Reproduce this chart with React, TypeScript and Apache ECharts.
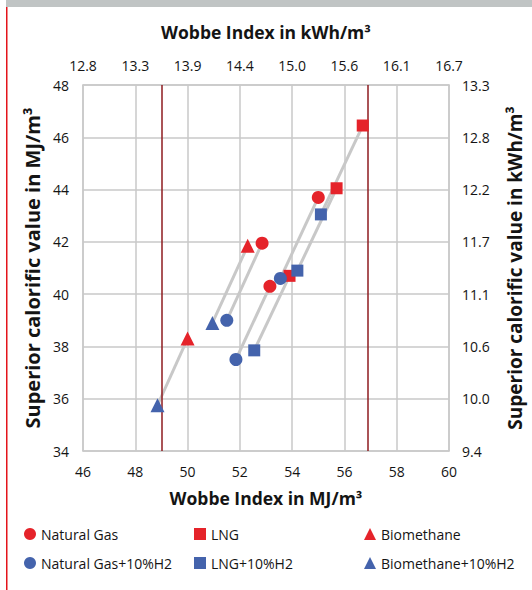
import React, { useEffect, useRef } from "react";
import * as echarts from "echarts";

// Wobbe index (MJ/m³) and superior calorific value (MJ/m³)
const naturalGas: number[][] = [[52.85, 41.95], [55.0, 43.7], [53.15, 40.3]];
const naturalGasH2: number[][] = [[51.5, 39.0], [53.55, 40.6], [51.85, 37.5]];
const lng: number[][] = [[56.7, 46.45], [55.7, 44.05], [53.9, 40.7]];
const lngH2: number[][] = [[55.1, 43.05], [54.2, 40.9], [52.55, 37.85]];
const biomethane: number[][] = [[52.3, 41.85], [50.0, 38.3]];
const biomethaneH2: number[][] = [[50.95, 38.9], [48.85, 35.75]];

// Wobbe index limits (MJ/m³)
const wobbeLimits: number[] = [49.0, 56.9];

// Tick labels of the secondary (kWh/m³) axes
const topTickLabels: string[] = ["12.8", "13.3", "13.9", "14.4", "15.0", "15.6", "16.1", "16.7"];
const rightTickLabels: string[] = ["9.4", "10.0", "10.6", "11.1", "11.7", "12.2", "12.8", "13.3"];

const xMin = 46, xMax = 60, yMin = 34, yMax = 48, step = 2;

const RED = "#e5232a";
const BLUE = "#4463ac";
const GRID = "#c9c9c9";
const FONT = "Open Sans";
const TXT = "#141414";

export default function App() {
  const ref = useRef<HTMLDivElement>(null);
  useEffect(() => {
    if (!ref.current) return;
    const chart = echarts.init(ref.current, undefined, { renderer: "svg" });

    const pairs: number[][][] = [];
    const groups: [number[][], number[][]][] = [
      [naturalGas, naturalGasH2],
      [lng, lngH2],
      [biomethane, biomethaneH2],
    ];
    groups.forEach(([a, b]) => a.forEach((p, i) => pairs.push([p, b[i]])));

    const lineSeries = pairs.map((pr, i) => ({
      type: "line",
      name: "pair" + i,
      data: pr,
      showSymbol: false,
      silent: true,
      z: 1,
      lineStyle: { color: "#c8c8c8", width: 3 },
      xAxisIndex: 0,
      yAxisIndex: 0,
    }));

    const scatter = (name: string, data: number[][], color: string, symbol: string, size: number) => ({
      type: "scatter",
      name,
      data,
      symbol,
      symbolSize: size,
      itemStyle: { color, opacity: 1 },
      z: 5,
      xAxisIndex: 0,
      yAxisIndex: 0,
    });

    const legendCommon = {
      orient: "vertical",
      itemGap: 15,
      itemWidth: 12,
      itemHeight: 12,
      textStyle: { fontFamily: FONT, fontSize: 14, color: TXT },
      selectedMode: false,
    };

    const labelStyle = { fontFamily: FONT, fontSize: 14, color: TXT };
    const nameStyle = { fontFamily: FONT, fontSize: 17.5, fontWeight: "bold", color: TXT };

    chart.setOption({
      animation: false,
      textStyle: { fontFamily: FONT },
      grid: { left: 83, right: 80, top: 85, bottom: 139 },
      graphic: [
        { type: "rect", shape: { x: 6, y: 0, width: 526, height: 7 }, style: { fill: "#c0c4c4" } },
        { type: "rect", shape: { x: 6, y: 7, width: 1.5, height: 583 }, style: { fill: "#e4141b" } },
      ],
      legend: [
        { ...legendCommon, left: 19, top: 522, data: [{ name: "Natural Gas", icon: "circle" }, { name: "Natural Gas+10%H2", icon: "circle" }] },
        { ...legendCommon, left: 189, top: 522, data: [{ name: "LNG", icon: "rect" }, { name: "LNG+10%H2", icon: "rect" }] },
        { ...legendCommon, left: 359, top: 522, data: [{ name: "Biomethane", icon: "triangle" }, { name: "Biomethane+10%H2", icon: "triangle" }] },
      ],
      xAxis: [
        {
          type: "value",
          position: "bottom",
          min: xMin,
          max: xMax,
          interval: step,
          name: "Wobbe Index in MJ/m³",
          nameLocation: "middle",
          nameGap: 38,
          nameTextStyle: nameStyle,
          axisLine: { show: true, lineStyle: { color: GRID, width: 1.5 } },
          axisTick: { show: false },
          axisLabel: { margin: 13, ...labelStyle },
          splitLine: { show: true, lineStyle: { color: GRID, width: 1.5 } },
        },
        {
          type: "value",
          position: "top",
          min: xMin,
          max: xMax,
          interval: step,
          name: "Wobbe Index in kWh/m³",
          nameLocation: "middle",
          nameGap: 44,
          nameTextStyle: nameStyle,
          axisLine: { show: true, lineStyle: { color: GRID, width: 1.5 } },
          axisTick: { show: false },
          axisLabel: {
            margin: 13,
            ...labelStyle,
            formatter: (v: number) => topTickLabels[Math.round((v - xMin) / step)] ?? "",
          },
          splitLine: { show: false },
        },
      ],
      yAxis: [
        {
          type: "value",
          position: "left",
          min: yMin,
          max: yMax,
          interval: step,
          name: "Superior calorific value in MJ/m³",
          nameLocation: "middle",
          nameRotate: 90,
          nameGap: 41,
          nameTextStyle: { ...nameStyle, fontSize: 20 },
          axisLine: { show: true, lineStyle: { color: GRID, width: 1.5 } },
          axisTick: { show: false },
          axisLabel: { margin: 14, ...labelStyle },
          splitLine: { show: true, lineStyle: { color: GRID, width: 1.5 } },
        },
        {
          type: "value",
          position: "right",
          min: yMin,
          max: yMax,
          interval: step,
          name: "Superior calorific value in kWh/m³",
          nameLocation: "middle",
          nameRotate: 90,
          nameGap: 56,
          nameTextStyle: { ...nameStyle, fontSize: 19 },
          axisLine: { show: true, lineStyle: { color: GRID, width: 1.5 } },
          axisTick: { show: false },
          axisLabel: {
            margin: 13,
            ...labelStyle,
            formatter: (v: number) => rightTickLabels[Math.round((v - yMin) / step)] ?? "",
          },
          splitLine: { show: false },
        },
      ],
      series: [
        {
          type: "line",
          name: "limits",
          data: [],
          silent: true,
          z: 2,
          markLine: {
            silent: true,
            symbol: "none",
            label: { show: false },
            lineStyle: { color: "#8e1b1f", width: 1.5, type: "solid" },
            data: wobbeLimits.map((v) => ({ xAxis: v })),
          },
        },
        ...lineSeries,
        scatter("Natural Gas", naturalGas, RED, "circle", 13),
        scatter("LNG", lng, RED, "rect", 12),
        scatter("Biomethane", biomethane, RED, "triangle", 14),
        scatter("Natural Gas+10%H2", naturalGasH2, BLUE, "circle", 13),
        scatter("LNG+10%H2", lngH2, BLUE, "rect", 12),
        scatter("Biomethane+10%H2", biomethaneH2, BLUE, "triangle", 14),
      ],
    });
    return () => chart.dispose();
  }, []);

  return (
    <div
      ref={ref}
      style={{ position: "fixed", left: 0, top: 0, width: 532, height: 590, background: "#fff" }}
    />
  );
}
